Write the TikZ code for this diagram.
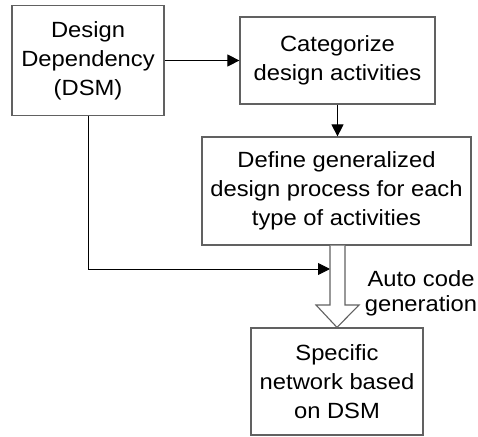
\documentclass[tikz,border=0pt]{standalone}
\usepackage{fontspec}
\setmainfont{Liberation Sans}[FakeStretch=1.08]
\usetikzlibrary{arrows.meta}
\begin{document}
\begin{tikzpicture}[x=1pt,y=-1pt,
  box/.style={draw=black!62,line width=1.2pt,fill=white,inner sep=0pt,align=center,
    font=\fontsize{22}{29}\selectfont},
  arr/.style={draw=black,line width=0.9pt,-{Triangle[length=12pt,width=12pt]}},
  lbl/.style={align=center,inner sep=0pt,font=\fontsize{22}{25}\selectfont}]
\useasboundingbox (0,0) rectangle (478,436);
\node[box,minimum width=152pt,minimum height=110pt] (A) at (88,60.5) {Design\\Dependency\\(DSM)};
\node[box,minimum width=195pt,minimum height=87pt] (B) at (337.5,60.5) {Categorize\\design activities};
\node[box,minimum width=269pt,minimum height=108pt] (C) at (336.5,191) {Define generalized\\design process for each\\type of activities};
\node[box,minimum width=172pt,minimum height=107pt] (D) at (337,381.5) {Specific\\network based\\on DSM};
\node[lbl] (L) at (421,293) {Auto code\\generation};
\draw[arr] (A.east) -- (B.west);
\draw[arr] (B.south) -- (B.south |- C.north);
\coordinate (m) at (330,269);
\draw[arr] (A.south) |- (m);
\coordinate (s1) at (330,0);
\coordinate (s2) at (345,0);
\draw[draw=black!62,line width=1.1pt,fill=white]
  (s1 |- C.south) -- (330,305) -- (316,305) -- (D.north) -- (359,305) -- (345,305) -- (s2 |- C.south);
\end{tikzpicture}
\end{document}
